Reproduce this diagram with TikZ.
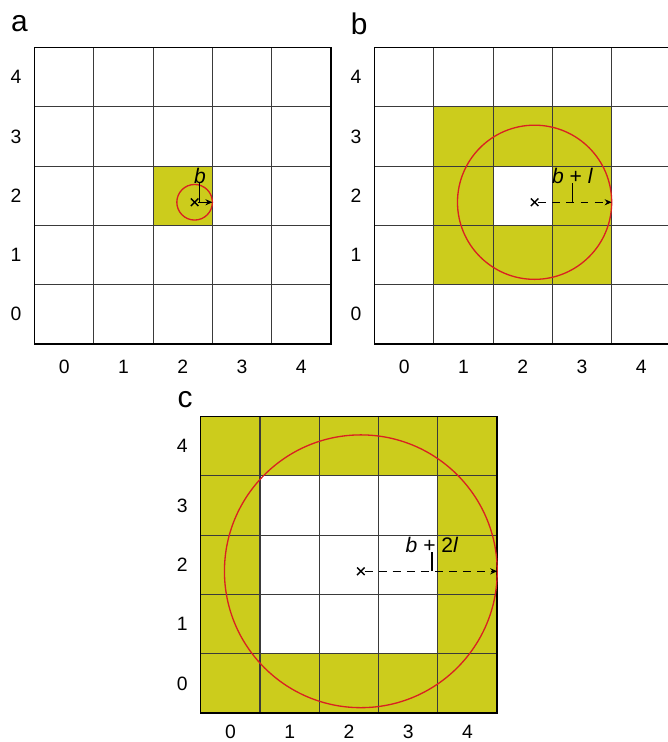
\documentclass[tikz,border=0pt]{standalone}
\usepackage{fontspec}
\setmainfont{Liberation Sans}
\usetikzlibrary{arrows.meta,shapes.misc}
\definecolor{oliva}{HTML}{CCCC1C}
\definecolor{raio}{HTML}{D92121}
\definecolor{grade}{HTML}{3A3A3A}

\begin{document}
\begin{tikzpicture}[x=1.186cm, y=1.186cm,
  font=\fontsize{11}{13}\selectfont,
  celula/.style={fill=oliva, even odd rule},
  linha/.style={draw=grade, line width=0.65pt},
  borda/.style={draw=black, line width=0.85pt},
  circulo/.style={draw=raio, line width=0.75pt},
  centro/.style={cross out, draw=black, line width=0.8pt, minimum size=3.5pt, inner sep=0pt},
  seta/.style={-{Stealth[length=4pt, width=3.5pt]}, line width=0.6pt},
  tracejada/.style={seta, dash pattern=on 4.5pt off 3.5pt},
  rotulo/.style={anchor=base, inner sep=1pt, font=\fontsize{12}{14}\selectfont},
  painel/.style={font=\fontsize{17}{20}\selectfont}]
\useasboundingbox (0,-12.513) rectangle (11.248,0);

% a
\begin{scope}[shift={(1.082,-5.301)}]
\fill[celula] (1.5,1.5) rectangle (2.5,2.5);
\foreach \t in {0.5,1.5,2.5,3.5} {
  \draw[linha] (\t,-0.5) -- (\t,4.5);
  \draw[linha] (-0.5,\t) -- (4.5,\t);
}
\draw[borda] (-0.5,-0.5) rectangle (4.5,4.5);
\foreach \k in {0,...,4} {
  \node (ra\k) at (-0.812,\k) {\k};
  \node (ca\k) at (\k,-0.88) {\k};
}
\node[painel] (pa) at (-0.753,4.9) {a};
\draw[circulo] (2.2,1.89) circle (0.3);
\node[centro] (oa) at (2.2,1.89) {};
\coordinate (ea) at (2.5,1.89);
\node[rotulo] (la) at (2.29,2.21) {\textit{b}};
\draw[seta] (oa) -- (ea);
\draw[line width=0.6pt] (la.base) -- (la.base |- ea);
\end{scope}

% b
\begin{scope}[shift={(6.815,-5.301)}]
\fill[celula] (0.5,0.5) rectangle (3.5,3.5) (1.5,1.5) rectangle (2.5,2.5);
\foreach \t in {0.5,1.5,2.5,3.5} {
  \draw[linha] (\t,-0.5) -- (\t,4.5);
  \draw[linha] (-0.5,\t) -- (4.5,\t);
}
\draw[borda] (-0.5,-0.5) rectangle (4.5,4.5);
\foreach \k in {0,...,4} {
  \node (rb\k) at (-0.812,\k) {\k};
  \node (cb\k) at (\k,-0.88) {\k};
}
\node[painel] (pb) at (-0.76,4.9) {b};
\draw[circulo] (2.2,1.89) circle (1.3);
\node[centro] (ob) at (2.2,1.89) {};
\coordinate (eb) at (3.5,1.89);
\node[rotulo] (lb) at (2.84,2.21) {\textit{b} + \textit{l}};
\draw[tracejada] (ob) -- (eb);
\draw[line width=0.6pt] (lb.base) -- (lb.base |- eb);
\end{scope}

% c
\begin{scope}[shift={(3.885,-11.524)}]
\fill[celula] (-0.5,-0.5) rectangle (4.5,4.5) (0.5,0.5) rectangle (3.5,3.5);
\foreach \t in {0.5,1.5,2.5,3.5} {
  \draw[linha] (\t,-0.5) -- (\t,4.5);
  \draw[linha] (-0.5,\t) -- (4.5,\t);
}
\draw[borda] (-0.5,-0.5) rectangle (4.5,4.5);
\foreach \k in {0,...,4} {
  \node (rc\k) at (-0.812,\k) {\k};
  \node (cc\k) at (\k,-0.82) {\k};
}
\node[painel] (pc) at (-0.765,4.78) {c};
\draw[circulo] (2.2,1.89) circle (2.3);
\node[centro] (oc) at (2.2,1.89) {};
\coordinate (ec) at (4.5,1.89);
\node[rotulo] (lc) at (3.40,2.21) {\textit{b} + 2\textit{l}};
\draw[tracejada] (oc) -- (ec);
\draw[line width=0.6pt] (lc.base) -- (lc.base |- ec);
\end{scope}
\end{tikzpicture}
\end{document}
